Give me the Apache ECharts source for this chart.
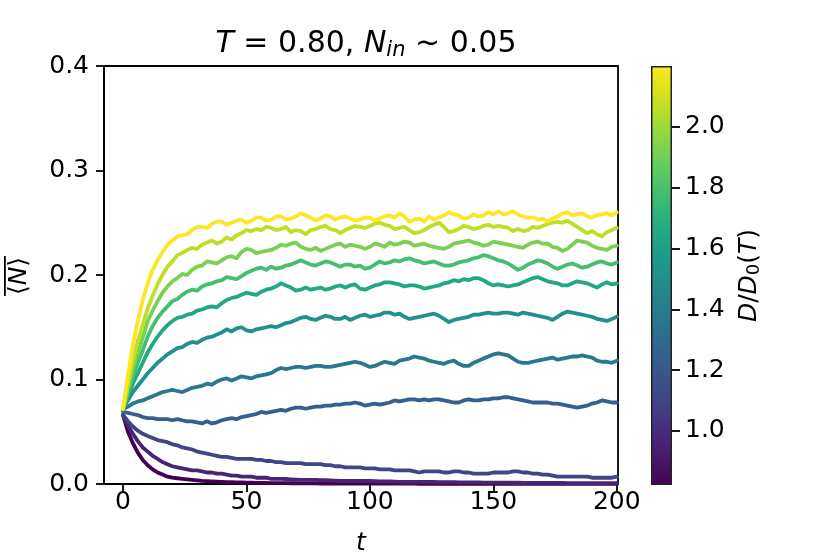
<!DOCTYPE html>
<html><head><meta charset="utf-8">
<script src="https://cdn.jsdelivr.net/npm/echarts@6/dist/echarts.min.js"></script>
<style>html,body{margin:0;padding:0;background:#fff}#c{width:830px;height:554px}</style>
</head><body><div id="c"></div>
<script>
const tVals = [0,2,4,6,8,10,12,14,16,18,
20,22,24,26,28,30,32,34,36,38,
40,42,44,46,48,50,52,54,56,58,
60,62,64,66,68,70,72,74,76,78,
80,82,84,86,88,90,92,94,96,98,
100,102,104,106,108,110,112,114,116,118,
120,122,124,126,128,130,132,134,136,138,
140,142,144,146,148,150,152,154,156,158,
160,162,164,166,168,170,172,174,176,178,
180,182,184,186,188,190,192,194,196,198,
200];

const dValues = [0.822,0.960,1.098,1.235,1.373,1.511,1.649,1.787,1.924,2.062,2.2];

const nD0 = [.066,.050,.039,.030,.023,.018,.014,.011,.009,.007,
.006,.0055,.005,.0045,.004,.0035,.003,.0028,.0025,.0022,
.002,.0018,.0017,.0016,.0015,.0013,.0012,.0011,.001,.001,
.0009,.0009,.0008,.0008,.0007,.0007,.0006,.0006,.0006,.0006,
.0005,.0005,.0005,.0005,.0004,.0004,.0004,.0004,.0004,.0004,
.0003,.0003,.0003,.0003,.0003,.0003,.0003,.0003,.0003,.0003,
.0002,.0002,.0002,.0002,.0002,.0002,.0002,.0002,.0002,.0002,
.0002,.0002,.0002,.0002,.0002,.0002,.0002,.0002,.0002,.0002,
.0001,.0001,.0001,.0001,.0001,.0001,.0001,.0001,.0001,.0001,
.0001,.0001,.0001,.0001,.0001,.0001,.0001,.0001,.0001,.0001,
.0001];
const nD1 = [.066,.056,.048,.041,.035,.031,.027,.024,.021,.019,
.017,.016,.015,.014,.013,.013,.012,.011,.011,.010,
.010,.009,.008,.008,.007,.007,.007,.006,.006,.006,
.005,.005,.005,.0048,.0045,.0042,.004,.004,.004,.0039,
.0038,.0036,.0035,.0033,.003,.003,.003,.003,.003,.003,
.003,.0028,.0025,.0025,.0025,.0022,.002,.002,.002,.002,
.002,.002,.002,.0019,.0018,.0018,.0018,.0017,.0015,.0015,
.0015,.0015,.0015,.0014,.0013,.0013,.0013,.0013,.0012,.0012,
.0012,.0011,.001,.001,.001,.001,.001,.001,.001,.001,
.0009,.0009,.0009,.0009,.0008,.0008,.0008,.0008,.0008,.0008,
.0007];
const nD2 = [.066,.060,.055,.051,.048,.046,.044,.042,.041,.040,
.038,.037,.035,.034,.033,.031,.030,.029,.028,.027,
.026,.026,.025,.024,.024,.024,.024,.023,.023,.022,
.022,.021,.021,.020,.020,.020,.020,.019,.019,.019,
.019,.018,.018,.017,.017,.016,.016,.016,.016,.015,
.015,.015,.014,.014,.014,.013,.013,.013,.013,.012,
.011,.012,.012,.012,.012,.011,.011,.012,.012,.011,
.011,.010,.010,.010,.010,.011,.011,.011,.011,.012,
.012,.011,.011,.010,.010,.009,.009,.008,.007,.007,
.007,.007,.007,.007,.007,.006,.006,.006,.006,.006,
.007];
const nD3 = [.069,.068,.067,.066,.064,.063,.063,.062,.062,.062,
.061,.062,.061,.060,.060,.059,.058,.060,.058,.059,
.061,.062,.063,.062,.064,.065,.066,.067,.069,.068,
.069,.070,.071,.070,.072,.073,.073,.072,.073,.074,
.074,.075,.075,.076,.076,.077,.077,.078,.077,.075,
.076,.077,.076,.077,.078,.080,.079,.080,.081,.081,
.080,.081,.080,.081,.081,.080,.079,.078,.078,.080,
.081,.080,.080,.081,.081,.082,.082,.083,.083,.082,
.081,.080,.079,.078,.078,.078,.078,.077,.077,.076,
.075,.074,.073,.074,.075,.077,.078,.080,.079,.078,
.078];
const nD4 = [.072,.074,.077,.079,.080,.082,.084,.086,.088,.089,
.090,.089,.088,.090,.092,.093,.094,.096,.095,.098,
.100,.101,.099,.101,.103,.102,.101,.103,.104,.105,
.106,.109,.111,.110,.111,.112,.112,.111,.112,.113,
.113,.112,.112,.113,.114,.115,.116,.117,.116,.114,
.112,.113,.115,.117,.116,.115,.118,.119,.120,.122,
.121,.120,.118,.117,.116,.115,.117,.118,.115,.113,
.113,.116,.118,.120,.122,.124,.125,.124,.123,.120,
.117,.116,.116,.117,.118,.119,.120,.121,.119,.120,
.121,.122,.122,.123,.122,.121,.118,.117,.117,.116,
.118];
const nD5 = [.072,.080,.088,.094,.100,.106,.111,.116,.120,.124,
.127,.130,.131,.134,.136,.135,.138,.140,.141,.143,
.145,.148,.146,.149,.150,.147,.146,.148,.149,.150,
.151,.150,.152,.154,.155,.157,.159,.160,.158,.157,
.159,.161,.160,.158,.158,.160,.157,.159,.161,.162,
.160,.161,.162,.164,.164,.162,.163,.160,.158,.159,
.160,.161,.162,.163,.161,.158,.155,.157,.158,.159,
.160,.162,.162,.163,.164,.163,.163,.164,.164,.163,
.162,.164,.163,.162,.161,.160,.159,.157,.160,.163,
.165,.164,.163,.162,.161,.160,.158,.157,.156,.158,
.160];
const nD6 = [.072,.084,.096,.106,.116,.126,.134,.141,.147,.152,
.156,.159,.160,.162,.163,.166,.167,.169,.170,.169,
.173,.176,.178,.179,.181,.183,.182,.181,.184,.186,
.187,.189,.192,.190,.188,.185,.186,.188,.186,.187,
.188,.186,.187,.189,.190,.188,.190,.191,.187,.186,
.188,.190,.191,.193,.193,.192,.191,.189,.190,.190,
.189,.187,.188,.189,.190,.192,.193,.195,.194,.196,
.195,.197,.197,.195,.192,.190,.191,.190,.189,.190,
.191,.193,.195,.197,.198,.196,.194,.193,.192,.190,
.190,.192,.194,.193,.192,.190,.188,.191,.193,.191,
.192];
const nD7 = [.072,.087,.103,.116,.128,.141,.151,.159,.165,.170,
.175,.177,.181,.184,.186,.185,.189,.191,.192,.194,
.195,.198,.197,.196,.199,.202,.204,.206,.207,.205,
.208,.206,.207,.209,.210,.212,.214,.212,.210,.209,
.211,.213,.212,.210,.208,.210,.210,.208,.209,.206,
.207,.210,.213,.211,.212,.214,.213,.215,.216,.214,
.213,.211,.212,.213,.211,.209,.209,.210,.212,.213,
.214,.216,.217,.219,.218,.216,.214,.213,.211,.208,
.205,.207,.210,.212,.214,.213,.211,.208,.206,.208,
.210,.211,.209,.207,.208,.210,.212,.213,.211,.210,
.212];
const nD8 = [.072,.091,.111,.125,.140,.156,.166,.175,.183,.189,
.194,.197,.201,.200,.205,.208,.209,.213,.212,.211,
.214,.217,.218,.216,.222,.225,.224,.221,.222,.223,
.224,.226,.229,.228,.230,.231,.227,.225,.224,.226,
.223,.225,.227,.229,.230,.227,.229,.228,.227,.225,
.227,.230,.229,.227,.231,.229,.230,.232,.231,.228,
.229,.230,.228,.227,.226,.225,.227,.230,.231,.232,
.233,.231,.230,.228,.229,.232,.231,.230,.229,.228,
.227,.226,.229,.231,.232,.230,.230,.227,.226,.223,
.225,.229,.233,.232,.231,.228,.226,.225,.224,.227,
.228];
const nD9 = [.072,.095,.118,.137,.152,.168,.180,.191,.200,.208,
.213,.219,.221,.224,.226,.225,.229,.231,.233,.230,
.232,.236,.234,.238,.240,.243,.242,.244,.243,.246,
.245,.243,.244,.246,.241,.243,.242,.239,.243,.244,
.246,.247,.244,.243,.240,.243,.245,.247,.246,.245,
.247,.249,.250,.248,.247,.244,.245,.246,.243,.240,
.241,.243,.246,.248,.250,.246,.241,.242,.244,.247,
.246,.244,.245,.247,.248,.246,.247,.246,.245,.242,
.244,.242,.243,.246,.245,.247,.249,.250,.251,.250,
.252,.249,.246,.243,.240,.242,.239,.237,.241,.243,
.245];
const nD10 = [.072,.104,.133,.156,.176,.192,.205,.214,.222,.229,
.233,.237,.238,.239,.243,.246,.246,.245,.249,.251,
.251,.248,.250,.252,.253,.250,.252,.255,.255,.252,
.253,.256,.256,.253,.254,.256,.259,.257,.255,.252,
.254,.257,.256,.253,.255,.256,.254,.252,.253,.255,
.255,.252,.254,.256,.257,.255,.259,.256,.251,.253,
.254,.251,.256,.253,.255,.257,.260,.258,.257,.254,
.255,.258,.256,.257,.260,.258,.261,.258,.259,.261,
.258,.256,.255,.255,.253,.254,.251,.254,.256,.259,
.260,.257,.258,.259,.256,.255,.257,.258,.259,.257,
.260];

const seriesValues = [nD0,nD1,nD2,nD3,nD4,nD5,nD6,nD7,nD8,nD9,nD10];
const xTicks = [0,50,100,150,200];
const yTicks = [0,0.1,0.2,0.3,0.4];
const cbarTicks = [1.0,1.2,1.4,1.6,1.8,2.0];
const cbarRange = [0.822, 2.2];

const lineColors = ['#440154','#482475','#414487','#355f8d','#2a788e','#21918c','#22a884','#44bf70','#7ad151','#bddf26','#fde725'];
const viridis = ['#440154','#471365','#482475','#463480','#414487','#3b528b','#355f8d','#2f6c8e','#2a788e','#25848e','#21918c','#1e9c89','#22a884','#2fb47c','#44bf70','#5ec962','#7ad151','#9bd93c','#bddf26','#dfe318','#fde725'];

const FONT = 'DejaVu Sans';
const FS = 25;
const chart = echarts.init(document.getElementById('c'), null, {renderer:'canvas'});

const series = seriesValues.map((vals, i) => ({
  type: 'line',
  xAxisIndex: 0, yAxisIndex: 0,
  data: tVals.map((t, k) => [t, vals[k]]),
  showSymbol: false,
  symbol: 'none',
  lineStyle: {color: lineColors[i], width: 3.8, join: 'round', cap: 'round'},
  z: 2 + i * 0.01,
  animation: false
}));

const gradStops = viridis.map((c, k) => ({offset: 1 - k / (viridis.length - 1), color: c})).reverse();

series.push({
  type: 'bar', xAxisIndex: 1, yAxisIndex: 1, stack: 'cb',
  data: [cbarRange[0]], barWidth: '100%',
  itemStyle: {color: 'rgba(0,0,0,0)'}, silent: true, animation: false
});
series.push({
  type: 'bar', xAxisIndex: 1, yAxisIndex: 1, stack: 'cb',
  data: [cbarRange[1] - cbarRange[0]], barWidth: '100%',
  itemStyle: {color: new echarts.graphic.LinearGradient(0, 0, 0, 1, gradStops), borderColor: '#222', borderWidth: 1.5},
  silent: true, animation: false
});

const tickLabel = {fontFamily: FONT, fontSize: FS, color: '#000'};

chart.setOption({
  animation: false,
  backgroundColor: '#fff',
  title: {
    text: '{i|T} = 0.80, {i|N}{s|in} ~ 0.05',
    left: 361, top: 22, textAlign: 'center',
    textStyle: {
      fontFamily: FONT, fontSize: 30, fontWeight: 'normal', color: '#000',
      rich: {
        i: {fontFamily: FONT, fontSize: 30, fontStyle: 'italic', color: '#000'},
        s: {fontFamily: FONT, fontSize: 21, fontStyle: 'italic', color: '#000', padding: [13, 0, 0, 0]}
      }
    }
  },
  grid: [
    {left: 104, top: 66, width: 514, height: 418, show: true, borderColor: '#000', borderWidth: 1.8, backgroundColor: 'transparent', containLabel: false, outerBoundsMode: 'none'},
    {left: 651, top: 66, width: 21, height: 419, containLabel: false, outerBoundsMode: 'none'}
  ],
  xAxis: [
    {
      type: 'value', gridIndex: 0, min: -7.7, max: 200.5,
      axisLine: {show: true, onZero: false, lineStyle: {color: '#000', width: 1.8}},
      axisTick: {show: true, length: 8, lineStyle: {color: '#000', width: 1.8}, customValues: xTicks},
      axisLabel: Object.assign({margin: 6, customValues: xTicks}, tickLabel),
      splitLine: {show: false},
      name: 't', nameLocation: 'middle', nameGap: 47,
      nameTextStyle: {fontFamily: FONT, fontSize: FS, fontStyle: 'italic', color: '#000'}
    },
    {type: 'category', gridIndex: 1, data: ['cb'], show: false}
  ],
  yAxis: [
    {
      type: 'value', gridIndex: 0, min: 0, max: 0.4, interval: 0.1,
      axisLine: {show: true, onZero: false, lineStyle: {color: '#000', width: 1.8}},
      axisTick: {show: true, length: 8, lineStyle: {color: '#000', width: 1.8}},
      axisLabel: Object.assign({margin: 15, formatter: v => v.toFixed(1)}, tickLabel),
      splitLine: {show: false}
    },
    {
      type: 'value', gridIndex: 1, min: cbarRange[0], max: cbarRange[1], position: 'right',
      axisLine: {show: false, onZero: false},
      axisTick: {show: true, length: 8, lineStyle: {color: '#000', width: 1.8}, customValues: cbarTicks},
      axisLabel: Object.assign({margin: 13, customValues: cbarTicks, formatter: v => v.toFixed(1)}, tickLabel),
      splitLine: {show: false},
      name: '{i|D}/{i|D}{s|0}({i|T})', nameLocation: 'middle', nameRotate: 90, nameGap: 64,
      nameTextStyle: {
        fontFamily: FONT, fontSize: FS, color: '#000',
        rich: {
          i: {fontFamily: FONT, fontSize: FS, fontStyle: 'italic', color: '#000'},
          s: {fontFamily: FONT, fontSize: 18, color: '#000', padding: [9, 0, 0, 0]}
        }
      }
    }
  ],
  graphic: [
    {
      type: 'group', x: 19, y: 276, rotation: Math.PI / 2,
      children: [
        {type: 'text', x: 0, y: 0, style: {
          text: '{a|⟨}{b|N}{a|⟩}', x: 0, y: 0, align: 'center', verticalAlign: 'middle',
          rich: {a: {fontFamily: FONT, fontSize: FS, fill: '#000'}, b: {fontFamily: FONT, fontSize: FS, fontStyle: 'italic', fill: '#000'}}
        }},
        {type: 'rect', shape: {x: -20, y: -15, width: 40, height: 1.8}, style: {fill: '#000'}}
      ]
    }
  ],
  series: series
});
</script></body></html>
